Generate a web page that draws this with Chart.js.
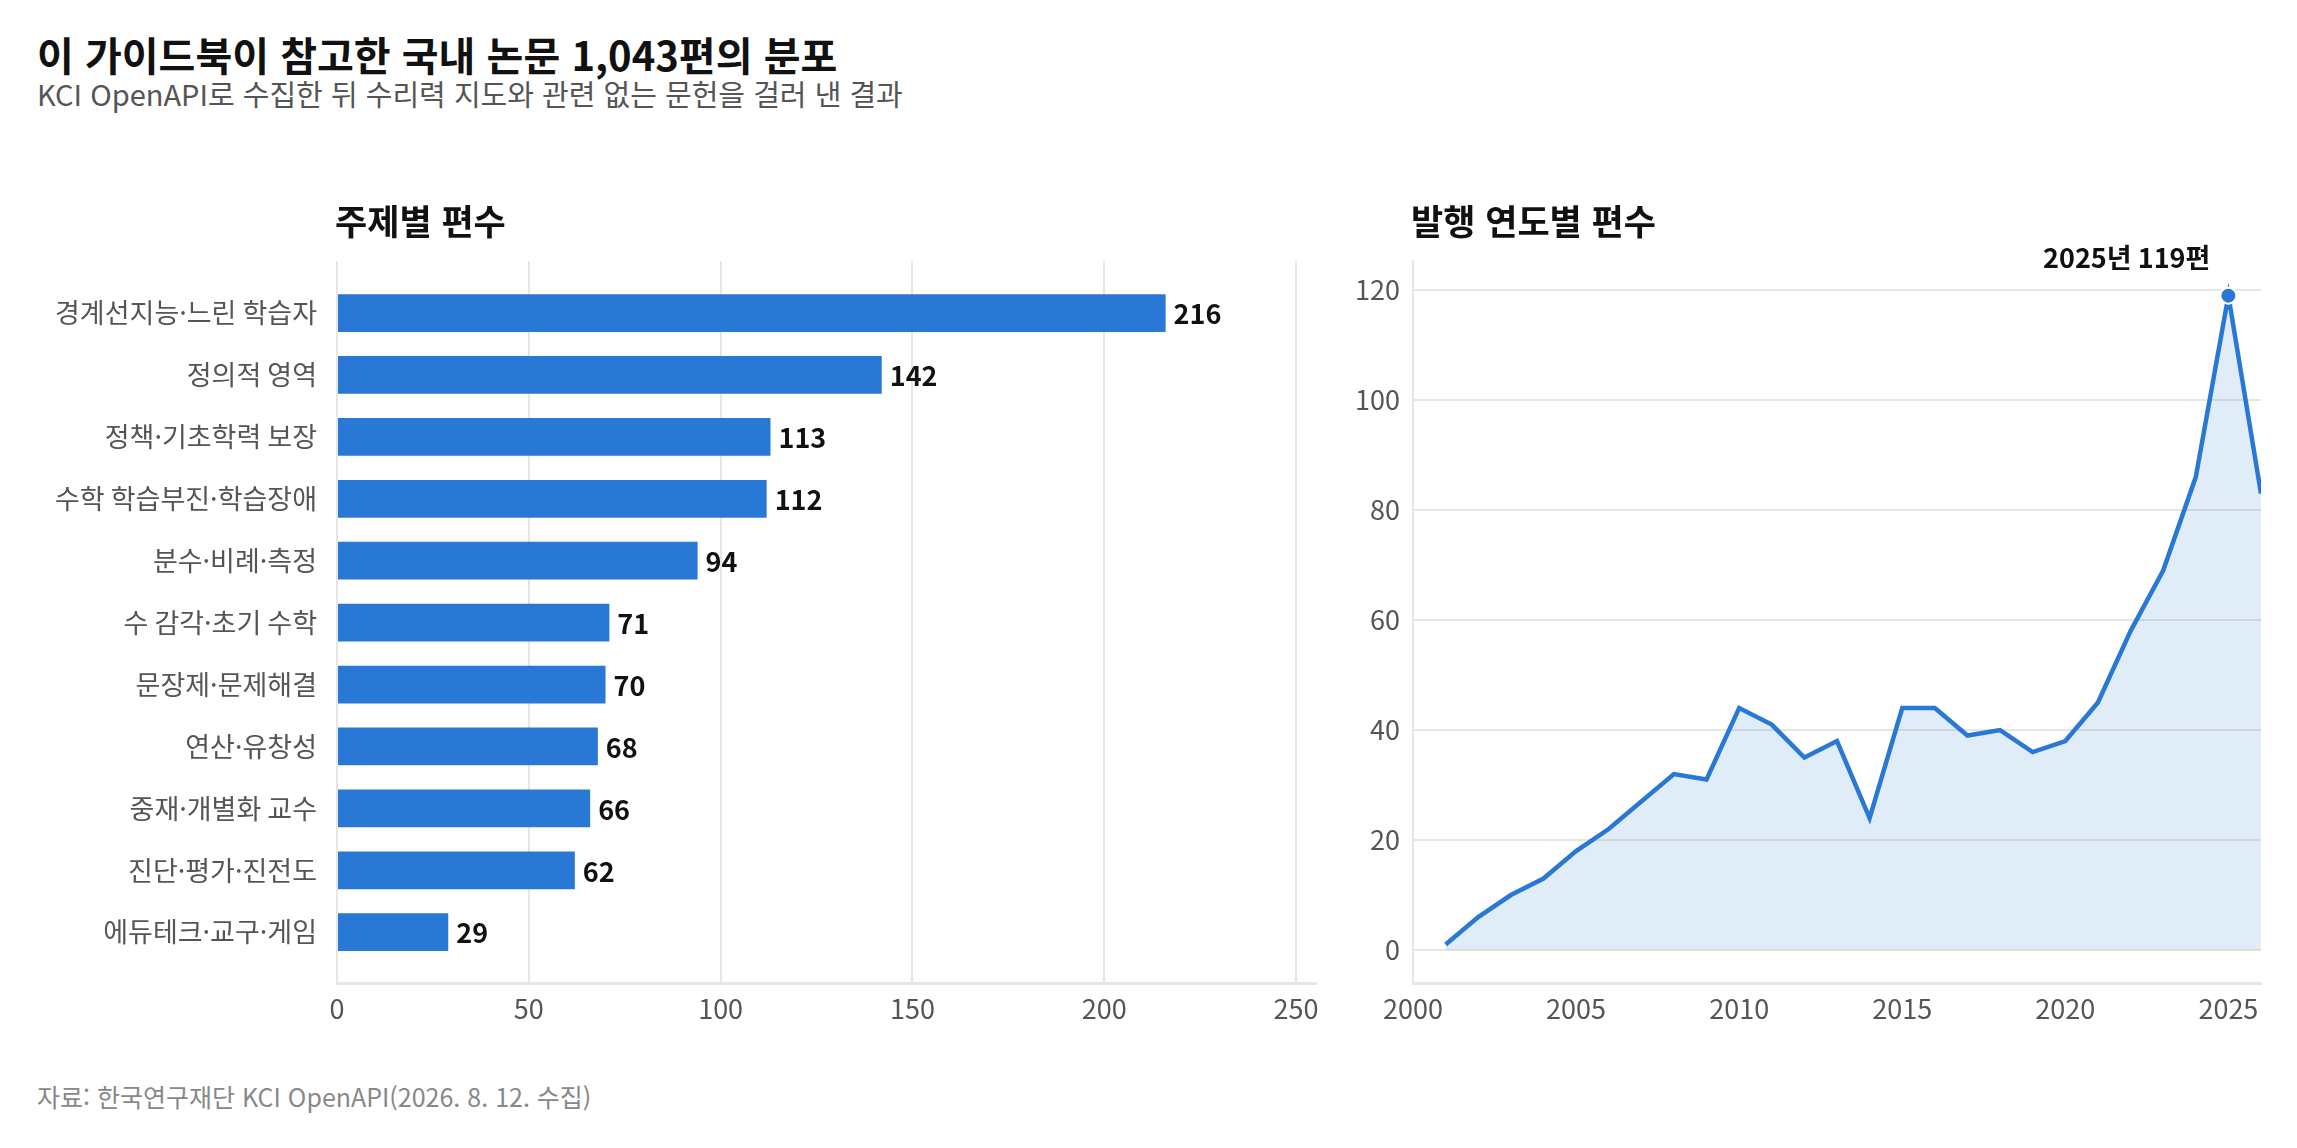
<!DOCTYPE html>
<html lang="ko">
<head>
<meta charset="utf-8">
<title>국내 논문 1,043편의 분포</title>
<script src="https://cdn.jsdelivr.net/npm/chart.js@4/dist/chart.umd.min.js"></script>
<style>
  html, body { margin: 0; padding: 0; background: #fff; }
  body { width: 2297px; height: 1148px; position: relative; overflow: hidden;
         font-family: "Noto Sans CJK KR", "Noto Sans", sans-serif; }
  .txt { position: absolute; white-space: nowrap; }
  .title { left: 37px; top: 30px; font-size: 40px; line-height: 48px; font-weight: 700; color: #111; }
  .subtitle { left: 37px; top: 75px; font-size: 29px; line-height: 36px; color: #555; }
  .panel-title { top: 199px; font-size: 35px; line-height: 42px; font-weight: 700; color: #111; }
  .source { left: 37px; top: 1080px; font-size: 25px; line-height: 32px; color: #888; }
  .box { position: absolute; top: 216px; height: 844px; }
</style>
</head>
<body>
<div class="txt title">이 가이드북이 참고한 국내 논문 1,043편의 분포</div>
<div class="txt subtitle">KCI OpenAPI로 수집한 뒤 수리력 지도와 관련 없는 문헌을 걸러 낸 결과</div>
<div class="box" style="left:0; width:1340px"><canvas id="topicChart"></canvas></div>
<div class="box" style="left:1340px; width:957px"><canvas id="yearChart"></canvas></div>
<div class="txt panel-title" style="left:335px">주제별 편수</div>
<div class="txt panel-title" style="left:1411px">발행 연도별 편수</div>
<div class="txt source">자료: 한국연구재단 KCI OpenAPI(2026. 8. 12. 수집)</div>

<script>
// Data
const topics = [
  '경계선지능·느린 학습자', '정의적 영역', '정책·기초학력 보장', '수학 학습부진·학습장애',
  '분수·비례·측정', '수 감각·초기 수학', '문장제·문제해결', '연산·유창성',
  '중재·개별화 교수', '진단·평가·진전도', '에듀테크·교구·게임'
];
const topicCounts = [216, 142, 113, 112, 94, 71, 70, 68, 66, 62, 29];
const topicTicks = [0, 50, 100, 150, 200, 250];

const years = [2001, 2002, 2003, 2004, 2005, 2006, 2007, 2008, 2009, 2010, 2011, 2012, 2013,
               2014, 2015, 2016, 2017, 2018, 2019, 2020, 2021, 2022, 2023, 2024, 2025, 2026];
const yearCounts = [1, 6, 10, 13, 18, 22, 27, 32, 31, 44, 41, 35, 38,
                    24, 44, 44, 39, 40, 36, 38, 45, 58, 69, 86, 119, 83];
const yearTicks = [2000, 2005, 2010, 2015, 2020, 2025];
const countTicks = [0, 20, 40, 60, 80, 100, 120];

const BLUE = '#2a78d6';
const GRID = '#e6e6e3';
const TICK_COLOR = '#555';
const FONT = '"Noto Sans CJK KR", "Noto Sans", sans-serif';

Chart.defaults.font.family = FONT;
Chart.defaults.animation = false;

const fixedTicks = (values) => (scale) => {
  scale.ticks = values.map(v => ({ value: v }));
};

// value labels at the end of each bar
const barValueLabels = {
  id: 'barValueLabels',
  afterDatasetsDraw(chart) {
    const ctx = chart.ctx;
    const meta = chart.getDatasetMeta(0);
    ctx.save();
    ctx.font = `700 27px ${FONT}`;
    ctx.fillStyle = '#111';
    ctx.textAlign = 'left';
    ctx.textBaseline = 'middle';
    meta.data.forEach((bar, i) => {
      ctx.fillText(String(topicCounts[i]), bar.x + 8, bar.y + 1);
    });
    ctx.restore();
  }
};

// annotation for the peak year
const peakLabel = {
  id: 'peakLabel',
  afterDraw(chart) {
    const meta = chart.getDatasetMeta(0);
    const peak = yearCounts.indexOf(Math.max(...yearCounts));
    const pt = meta.data[peak];
    const ctx = chart.ctx;
    ctx.save();
    ctx.font = `700 27px ${FONT}`;
    ctx.fillStyle = '#111';
    ctx.textAlign = 'right';
    ctx.textBaseline = 'middle';
    ctx.fillText(`${years[peak]}년 ${yearCounts[peak]}편`, pt.x - 18, pt.y - 38);
    ctx.restore();
  }
};

// layout: chart areas span y 261..983 on the page (canvas top 216, padding 45)
new Chart(document.getElementById('topicChart'), {
  type: 'bar',
  data: {
    datasets: [{
      data: topicCounts.map((v, i) => ({ x: v, y: i })),
      backgroundColor: BLUE,
      borderWidth: 0,
      barPercentage: 0.61,
      categoryPercentage: 1
    }]
  },
  options: {
    indexAxis: 'y',
    responsive: true,
    maintainAspectRatio: false,
    layout: { padding: { top: 45, right: 24, left: 0, bottom: 0 } },
    plugins: { legend: { display: false }, tooltip: { enabled: false } },
    scales: {
      x: {
        type: 'linear',
        min: 0,
        max: 255.2,
        afterBuildTicks: fixedTicks(topicTicks),
        afterFit: (s) => { s.height = 77; },
        grid: { color: GRID, lineWidth: 2, drawTicks: false },
        border: { display: true, color: GRID, width: 3 },
        ticks: { color: TICK_COLOR, font: { size: 27 }, padding: 10, callback: v => String(v) }
      },
      y: {
        type: 'linear',
        reverse: true,
        offset: false,
        min: -0.84,
        max: 10.82,
        afterBuildTicks: fixedTicks(topics.map((t, i) => i)),
        afterFit: (s) => { s.width = 337; },
        grid: { display: false, offset: false },
        border: { display: false },
        ticks: { color: TICK_COLOR, font: { size: 27 }, padding: 12, autoSkip: false,
                 callback: v => topics[v] }
      }
    }
  },
  plugins: [barValueLabels]
});

const peakIndex = yearCounts.indexOf(Math.max(...yearCounts));

new Chart(document.getElementById('yearChart'), {
  type: 'line',
  data: {
    datasets: [{
      data: years.map((y, i) => ({ x: y, y: yearCounts[i] })),
      borderColor: BLUE,
      borderWidth: 4.5,
      backgroundColor: 'rgba(42, 120, 214, 0.14)',
      fill: 'origin',
      tension: 0,
      pointRadius: ctx => ctx.dataIndex === peakIndex ? 8 : 0,
      pointBackgroundColor: BLUE,
      pointBorderColor: '#fff',
      pointBorderWidth: 2
    }]
  },
  options: {
    responsive: true,
    maintainAspectRatio: false,
    layout: { padding: { top: 45, right: 36, left: 0, bottom: 0 } },
    plugins: { legend: { display: false }, tooltip: { enabled: false } },
    scales: {
      x: {
        type: 'linear',
        min: 2000,
        max: 2026,
        afterBuildTicks: fixedTicks(yearTicks),
        afterFit: (s) => { s.height = 77; },
        grid: { display: false, drawTicks: false },
        border: { display: true, color: GRID, width: 3 },
        ticks: { color: TICK_COLOR, font: { size: 27 }, padding: 10, callback: v => String(v) }
      },
      y: {
        type: 'linear',
        min: -6,
        max: 125.3,
        afterBuildTicks: fixedTicks(countTicks),
        afterFit: (s) => { s.width = 73; },
        grid: { color: GRID, lineWidth: 2, drawTicks: false },
        border: { display: true, color: GRID, width: 2 },
        ticks: { color: TICK_COLOR, font: { size: 27 }, padding: 13, callback: v => String(v) }
      }
    }
  },
  plugins: [peakLabel]
});
</script>
</body>
</html>
